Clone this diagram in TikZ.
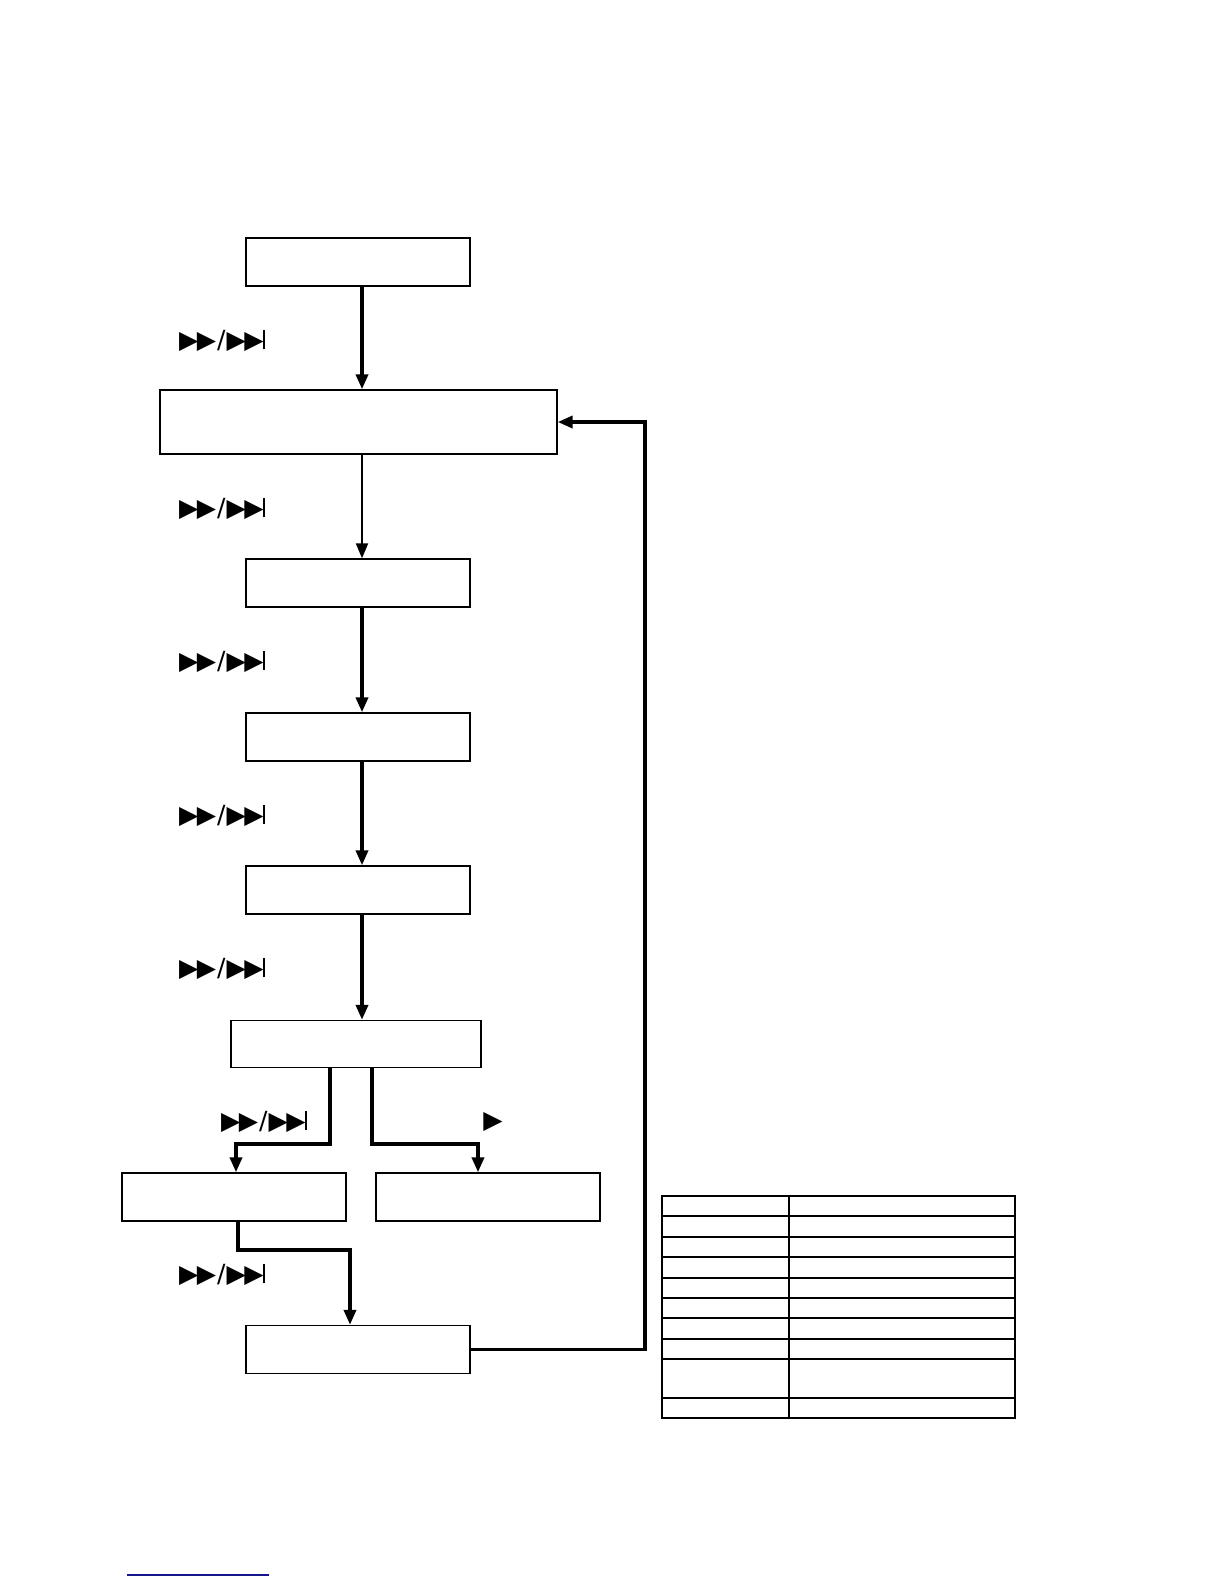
\documentclass[tikz,border=0pt]{standalone}
\usepackage{fontspec}
\usepackage{xcolor}
\usepackage{tikz}
\usetikzlibrary{arrows.meta}
\newfontfamily\symfont{DejaVu Sans}
\definecolor{linkblue}{RGB}{20,20,140}
\newcommand{\ffwdskip}{{\symfont ▶\kern-0.06em▶\kern0.04em/\kern0.04em▶\kern-0.06em▶\kern-0.04em\rule[-0.02em]{0.09em}{0.78em}}}
\newcommand{\playsym}{{\symfont ▶}}

\begin{document}
\begin{tikzpicture}[x=0.5pt, y=-0.5pt,
  box/.style={draw, line width=0.7pt, fill=white, inner sep=0pt,
              minimum width=112pt, minimum height=24pt},
  key/.style={font=\fontsize{12.5}{14}\selectfont, inner sep=0pt},
  arr/.style={-{Triangle[length=7.5pt, width=6pt]}, line width=1.8pt},
  thinarr/.style={-{Triangle[length=7.5pt, width=6pt]}, line width=1.1pt},
  grid/.style={line width=0.6pt},
  rim/.style={line width=1.1pt},
]
  \useasboundingbox (0,0) rectangle (1224,1584);

  \node[box] (b1) at (358, 262)    {};
  \node[box, minimum width=198.5pt, minimum height=32pt] (b2) at (358.5, 422) {};
  \node[box] (b3) at (358, 583)    {};
  \node[box] (b4) at (358, 737)    {};
  \node[box] (b5) at (358, 890)    {};
  \node[box, minimum width=125pt, minimum height=23.5pt] (b6) at (356, 1044) {};
  \node[box] (b7) at (234, 1197)   {};
  \node[box] (b8) at (488, 1197)   {};
  \node[box] (b9) at (358, 1349.5) {};
  \coordinate (spine) at (362, 0);
  \coordinate (turn) at (645, 422);

  \node[key] (k1) at (222, 341)    {\ffwdskip};
  \node[key] (k2) at (222, 509)    {\ffwdskip};
  \node[key] (k3) at (222, 662)    {\ffwdskip};
  \node[key] (k4) at (222, 816)    {\ffwdskip};
  \node[key] (k5) at (222, 969)    {\ffwdskip};
  \node[key] (k6) at (264, 1122)   {\ffwdskip};
  \node[key] (k7) at (493, 1122)   {\playsym};
  \node[key] (k8) at (222, 1275)   {\ffwdskip};

  \draw[arr] (b1.south -| spine) -- (b2.north -| spine);
  \draw[thinarr] (b2.south -| spine) -- (b3.north -| spine);
  \draw[arr] (b3.south -| spine) -- (b4.north -| spine);
  \draw[arr] (b4.south -| spine) -- (b5.north -| spine);
  \draw[arr] (b5.south -| spine) -- (b6.north -| spine);
  \draw[arr] ([xshift=-13pt]b6.south) -- ++(0,76) -| ([xshift=1pt]b7.north);
  \draw[arr] ([xshift=8pt]b6.south) -- ++(0,76) -| ([xshift=-5pt]b8.north);
  \draw[arr] ([xshift=2pt]b7.south) -- ++(0,28) -| ([xshift=-4pt]b9.north);
  \draw[arr] (b9.east) -| (turn) -- (b2.east);

  \draw[grid] (662, 1216) -- (1015, 1216);
  \draw[grid] (662, 1257) -- (1015, 1257);
  \draw[grid] (662, 1298) -- (1015, 1298);
  \draw[grid] (662, 1318) -- (1015, 1318);
  \draw[grid] (662, 1359) -- (1015, 1359);
  \draw[grid] (662, 1398) -- (1015, 1398);
  \foreach \y in {1237, 1278, 1339}
    \draw[rim] (662, \y) -- (1015, \y);
  \draw[rim] (789, 1196) -- (789, 1418);
  \draw[rim] (662, 1196) rectangle (1015, 1418);

  \draw[linkblue, line width=0.7pt] (127, 1575) -- (269, 1575);
\end{tikzpicture}
\end{document}
